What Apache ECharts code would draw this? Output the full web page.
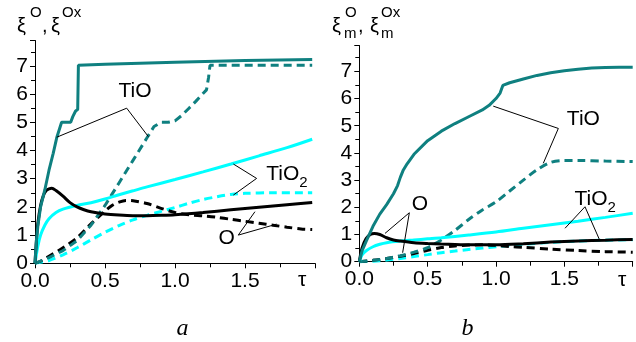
<!DOCTYPE html>
<html><head><meta charset="utf-8">
<script src="https://cdn.jsdelivr.net/npm/echarts@6/dist/echarts.min.js"></script>
<style>html,body{margin:0;padding:0;background:#fff}#c{width:636px;height:342px}</style>
</head><body><div id="c"></div>
<script>
// ---------- Data (tau, value) ----------
// Panel a
const a_TiO_solid = [[0,0],[0.005,0.45],[0.01,0.8],[0.02,1.3],[0.04,2.0],[0.07,2.6],[0.1,3.3],[0.13,3.9],[0.155,4.45],[0.19,5.0],[0.255,5.0],[0.27,5.2],[0.29,5.4],[0.305,5.45],[0.31,7.02],[0.5,7.06],[1.0,7.13],[1.5,7.19],[1.98,7.23]];
const a_TiO_dash = [[0,0],[0.1,0.2],[0.2,0.45],[0.3,0.8],[0.4,1.35],[0.5,2.05],[0.6,2.85],[0.7,3.65],[0.8,4.45],[0.85,4.85],[0.9,5.0],[0.95,5.0],[1.0,5.05],[1.05,5.25],[1.1,5.5],[1.15,5.75],[1.2,6.02],[1.225,6.15],[1.24,6.6],[1.25,7.02],[1.98,7.02]];
const a_TiO2_solid = [[0,0],[0.02,0.6],[0.04,1.0],[0.07,1.35],[0.1,1.58],[0.15,1.8],[0.2,1.92],[0.3,2.05],[0.4,2.15],[0.5,2.28],[0.6,2.43],[0.7,2.57],[0.8,2.71],[1.0,2.97],[1.2,3.24],[1.4,3.52],[1.6,3.81],[1.8,4.1],[1.98,4.4]];
const a_TiO2_dash = [[0,0],[0.1,0.1],[0.2,0.3],[0.3,0.55],[0.4,0.83],[0.5,1.1],[0.6,1.34],[0.7,1.54],[0.8,1.7],[0.9,1.84],[1.0,1.98],[1.1,2.13],[1.2,2.26],[1.3,2.36],[1.4,2.44],[1.5,2.48],[1.7,2.5],[1.98,2.5]];
const a_O_solid = [[0,0],[0.01,0.8],[0.02,1.4],[0.04,2.05],[0.06,2.4],[0.08,2.58],[0.1,2.64],[0.12,2.66],[0.15,2.58],[0.2,2.38],[0.25,2.15],[0.3,2.0],[0.35,1.9],[0.4,1.83],[0.5,1.75],[0.6,1.71],[0.7,1.69],[0.8,1.69],[0.9,1.7],[1.0,1.72],[1.2,1.8],[1.4,1.9],[1.6,1.99],[1.8,2.08],[1.98,2.16]];
const a_O_dash = [[0,0],[0.05,0.1],[0.1,0.25],[0.2,0.55],[0.3,0.9],[0.4,1.4],[0.5,1.85],[0.55,2.05],[0.6,2.17],[0.65,2.23],[0.7,2.22],[0.8,2.12],[0.9,1.95],[1.0,1.8],[1.1,1.72],[1.2,1.68],[1.3,1.63],[1.4,1.56],[1.5,1.49],[1.6,1.42],[1.7,1.35],[1.8,1.28],[1.9,1.22],[1.98,1.2]];
// Panel b
const b_TiO_solid = [[0,0],[0.02,0.4],[0.05,0.75],[0.1,1.3],[0.15,1.75],[0.2,2.1],[0.25,2.5],[0.28,2.8],[0.3,3.1],[0.32,3.35],[0.35,3.6],[0.4,3.95],[0.5,4.45],[0.6,4.8],[0.7,5.08],[0.8,5.33],[0.9,5.58],[0.95,5.75],[1.0,6.0],[1.03,6.2],[1.05,6.48],[1.1,6.58],[1.2,6.72],[1.3,6.85],[1.4,6.95],[1.5,7.02],[1.6,7.08],[1.7,7.12],[1.8,7.14],[1.9,7.15],[2.0,7.15]];
const b_TiO_dash = [[0,0],[0.1,0.05],[0.2,0.12],[0.3,0.22],[0.4,0.35],[0.5,0.52],[0.6,0.8],[0.7,1.15],[0.8,1.55],[0.9,1.9],[1.0,2.2],[1.1,2.6],[1.2,3.0],[1.3,3.38],[1.4,3.65],[1.5,3.72],[1.6,3.72],[1.8,3.7],[2.0,3.68]];
const b_TiO2_solid = [[0,0],[0.02,0.25],[0.05,0.4],[0.1,0.55],[0.15,0.64],[0.2,0.7],[0.3,0.76],[0.4,0.8],[0.5,0.84],[0.6,0.88],[0.8,0.98],[1.0,1.09],[1.2,1.23],[1.4,1.36],[1.6,1.49],[1.8,1.63],[2.0,1.78]];
const b_TiO2_dash = [[0,0],[0.1,0.02],[0.2,0.06],[0.3,0.12],[0.4,0.19],[0.5,0.26],[0.6,0.33],[0.7,0.39],[0.8,0.45],[0.9,0.5],[1.0,0.55],[1.2,0.64],[1.4,0.71],[1.6,0.76],[1.8,0.79],[2.0,0.81]];
const b_O_solid = [[0,0],[0.02,0.5],[0.05,0.85],[0.08,1.0],[0.11,1.04],[0.15,1.0],[0.2,0.88],[0.25,0.8],[0.3,0.76],[0.4,0.7],[0.5,0.67],[0.6,0.65],[0.8,0.62],[1.0,0.62],[1.2,0.66],[1.4,0.72],[1.6,0.76],[1.8,0.79],[2.0,0.82]];
const b_O_dash = [[0,0],[0.1,0.05],[0.2,0.12],[0.3,0.2],[0.4,0.3],[0.5,0.42],[0.6,0.52],[0.7,0.58],[0.8,0.61],[0.9,0.62],[1.0,0.6],[1.1,0.56],[1.2,0.53],[1.4,0.46],[1.6,0.41],[1.8,0.37],[2.0,0.35]];

// Tick labels
const xTicks = ['0.0','0.5','1.0','1.5'];
const yTicks = ['0','1','2','3','4','5','6','7'];

// Annotation anchors (data coords): label, label point, leader line ends
const a_labels = [['TiO',[0.714,6.0]],['TiO2',[1.80,3.05]],['O',[1.369,0.8]]];
const a_leaders = [[[0.655,5.5],[0.155,4.47]],[[0.655,5.5],[0.81,4.49]],
                   [[1.583,3.01],[1.417,3.52]],[[1.583,3.01],[1.417,2.42]],
                   [[1.452,1.0],[1.571,1.83]],[[1.452,1.0],[1.726,1.39]]];
const b_labels = [['TiO',[1.639,5.12]],['TiO2',[1.725,2.2]],['O',[0.444,2.0]]];
const b_leaders = [[[1.456,4.9],[0.98,5.72]],[[1.456,4.9],[1.346,3.62]],
                   [[1.651,2.02],[1.505,1.23]],[[1.651,2.02],[1.756,0.82]],
                   [[0.366,1.8],[0.188,1.04]],[[0.366,1.8],[0.317,0.33]]];

// ---------- Styles ----------
const TEAL = '#0f8080', CYAN = '#00ffff', BLACK = '#000000';
const FONT = '"Liberation Sans", Arial, sans-serif';

function line(data, color, dashed, gi, smooth){
  return {type:'line', data:data, xAxisIndex:gi, yAxisIndex:gi, showSymbol:false, symbol:'none',
    smooth: smooth ? 0.3 : false, animation:false, silent:true,
    lineStyle:{color:color, width:3, type: dashed ? [8,5] : 'solid', cap:'butt'}, z: dashed?2:3};
}
function annot(labels, leaders, gi){
  return {type:'line', data:[], xAxisIndex:gi, yAxisIndex:gi, animation:false, silent:true,
    markLine:{symbol:['none','none'], silent:true, animation:false,
      lineStyle:{color:'#000', width:1, type:'solid'}, label:{show:false},
      data: leaders.map(p=>[{coord:p[0]},{coord:p[1]}])},
    markPoint:{symbol:'circle', symbolSize:0, silent:true, animation:false,
      data: labels.map(l=>({coord:l[1], name:l[0], value:l[0]})),
      label:{show:true, position:'inside', color:'#000', fontFamily:FONT, fontSize:21,
        formatter: p => p.name==='TiO2' ? '{m|TiO}{s|2}' : '{m|'+p.name+'}',
        rich:{m:{fontSize:21, fontFamily:FONT, color:'#000', lineHeight:27, verticalAlign:'top'},
              s:{fontSize:15, fontFamily:FONT, color:'#000', lineHeight:27, verticalAlign:'bottom'}}}}
  };
}
function xAx(gi){
  return {type:'value', gridIndex:gi, min:0, max:2, interval:0.5,
    axisLine:{show:true, onZero:false, lineStyle:{color:'#000', width:1}},
    axisTick:{show:true, length:5, lineStyle:{color:'#000'}},
    minorTick:{show:true, splitNumber:2, length:4, lineStyle:{color:'#000'}},
    splitLine:{show:false},
    axisLabel:{color:'#000', fontSize:21, fontFamily:FONT, margin:7, showMaxLabel:false,
      formatter: v => { const i = Math.round(v/0.5); return (Math.abs(v-i*0.5)<1e-6 && i<xTicks.length) ? xTicks[i] : ''; }}};
}
function yAx(gi, max){
  return {type:'value', gridIndex:gi, min:0, max:max, interval:1,
    axisLine:{show:true, onZero:false, lineStyle:{color:'#000', width:1}},
    axisTick:{show:true, length:5, lineStyle:{color:'#000'}},
    minorTick:{show:true, splitNumber:2, length:4, lineStyle:{color:'#000'}},
    splitLine:{show:false},
    axisLabel:{color:'#000', fontSize:21, fontFamily:FONT, margin:7, showMaxLabel:false,
      formatter: v => { const i = Math.round(v); return (Math.abs(v-i)<1e-6 && i<yTicks.length) ? yTicks[i] : ''; }}};
}
function txt(x, y, s, size, extra){
  return Object.assign({type:'text', x:x, y:y, silent:true,
    style:{text:s, fontSize:size, fontFamily:FONT, fill:'#000', verticalAlign:'middle', align:'left'}}, extra||{});
}

const chart = echarts.init(document.getElementById('c'), null, {renderer:'canvas'});
chart.setOption({
  backgroundColor:'#fff',
  animation:false,
  grid:[{left:35, top:40.5, width:280, height:222.8},
        {left:359.3, top:45.5, width:273.4, height:216.2}],
  xAxis:[xAx(0), xAx(1)],
  yAxis:[yAx(0,7.9), yAx(1,7.95)],
  series:[
    line(a_TiO2_dash, CYAN, true, 0, true),
    line(a_O_dash, BLACK, true, 0, true),
    line(a_TiO_dash, TEAL, true, 0, false),
    line(a_TiO2_solid, CYAN, false, 0, true),
    line(a_O_solid, BLACK, false, 0, true),
    line(a_TiO_solid, TEAL, false, 0, false),
    annot(a_labels, a_leaders, 0),
    line(b_TiO2_dash, CYAN, true, 1, true),
    line(b_O_dash, BLACK, true, 1, true),
    line(b_TiO_dash, TEAL, true, 1, true),
    line(b_TiO2_solid, CYAN, false, 1, true),
    line(b_O_solid, BLACK, false, 1, true),
    line(b_TiO_solid, TEAL, false, 1, false),
    annot(b_labels, b_leaders, 1)
  ],
  graphic:[
    // panel a y-axis name
    txt(17, 26, 'ξ', 20), txt(30, 13, 'O', 15), txt(42, 26, ',', 20),
    txt(51, 26, 'ξ', 20), txt(62, 13, 'Ox', 15),
    // panel b y-axis name
    txt(332, 26, 'ξ', 20), txt(345, 13, 'O', 15), txt(344, 34, 'm', 15), txt(358, 26, ',', 20),
    txt(370, 26, 'ξ', 20), txt(381, 13, 'Ox', 15), txt(381, 34, 'm', 15),
    // tau axis names
    txt(298, 280, 'τ', 21), txt(618, 280, 'τ', 21),
    // panel letters
    {type:'text', x:182.5, y:329, silent:true, style:{text:'a', fontSize:24, fontStyle:'italic', fontFamily:'"Liberation Serif", "Times New Roman", serif', fill:'#000', align:'center', verticalAlign:'middle'}},
    {type:'text', x:467.5, y:329, silent:true, style:{text:'b', fontSize:24, fontStyle:'italic', fontFamily:'"Liberation Serif", "Times New Roman", serif', fill:'#000', align:'center', verticalAlign:'middle'}}
  ]
});
</script></body></html>
